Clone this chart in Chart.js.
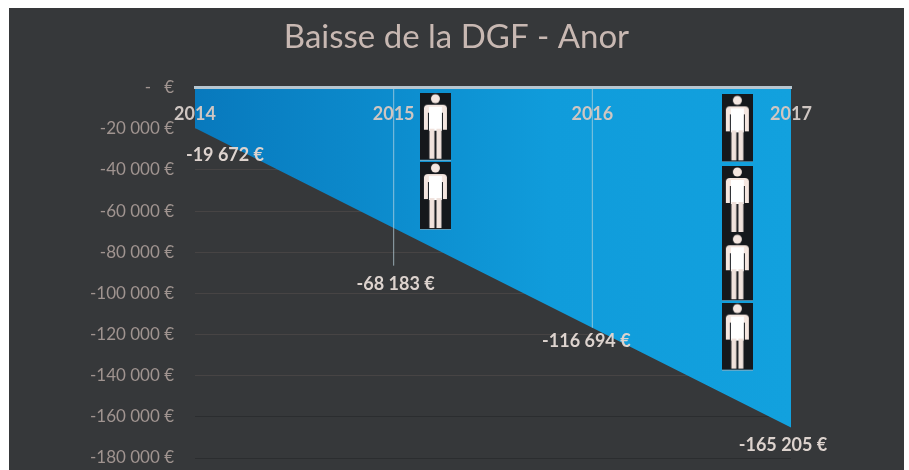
<!DOCTYPE html>
<html lang="fr">
<head>
    <meta charset="UTF-8">
    <title>Baisse de la DGF - Anor</title>
    <script src="https://cdn.jsdelivr.net/npm/chart.js"></script>
    <style>
        body, html {
            margin: 0;
            padding: 0;
            height: 100%;
            width: 100%;
            overflow: hidden;
            background: #ffffff;
            font-family: Lato, sans-serif;
        }
        #panel {
            position: absolute;
            left: 9px;
            top: 8px;
            width: 895px;
            height: 466px;
        }
    </style>
</head>
<body>
    <div id="panel"><canvas id="dgfChart"></canvas></div>

    <script>
        const years = [2014, 2015, 2016, 2017];
        const dgfValues = [-19672, -68183, -116694, -165205];
        const valueLabels = ['-19 672 €', '-68 183 €', '-116 694 €', '-165 205 €'];
        const dropYears = [2015, 2016];
        const dropEnds = [-86500, -116694];
        const personYears = [2015.21, 2015.21, 2016.73, 2016.73, 2016.73, 2016.73];
        const personValues = [-19000, -52700, -19800, -54600, -87300, -121000];

        const titleColor = '#c8b8b2';
        const tickColor = '#a09490';
        const labelColor = '#ddd3ce';

        // little man icon, used as point style
        function makePerson() {
            const c = document.createElement('canvas');
            c.width = 31;
            c.height = 68;
            const g = c.getContext('2d');
            g.fillStyle = '#15181c';
            g.fillRect(0, 0, 31, 68);
            g.fillStyle = '#f4e6e0';
            g.beginPath();
            g.arc(15.5, 6, 4.5, 0, Math.PI * 2);
            g.fill();
            g.beginPath();
            g.roundRect(4, 12, 23, 8, 4);
            g.fill();
            g.fillRect(4, 15, 4, 22);
            g.fillRect(23, 15, 4, 22);
            g.fillStyle = '#ffffff';
            g.fillRect(9, 14, 13, 24);
            g.fillStyle = '#f0e2dc';
            g.fillRect(9.5, 36, 5, 30);
            g.fillRect(16.5, 36, 5, 30);
            g.fillStyle = '#5fa9cc';
            g.fillRect(0, 67, 31, 1);
            return c;
        }

        const valueLabelsPlugin = {
            id: 'valueLabels',
            afterDatasetsDraw(chart) {
                const offsets = [[30, 27], [2, 56], [-6, 13], [-8, 18]];
                const { ctx, scales } = chart;
                ctx.save();
                ctx.font = 'bold 18px Lato, sans-serif';
                ctx.fillStyle = labelColor;
                ctx.textAlign = 'center';
                ctx.textBaseline = 'middle';
                valueLabels.forEach((text, i) => {
                    ctx.fillText(text,
                        scales.x.getPixelForValue(years[i]) + offsets[i][0],
                        scales.y.getPixelForValue(dgfValues[i]) + offsets[i][1]);
                });
                ctx.restore();
            }
        };

        const panelPlugin = {
            id: 'panelBg',
            beforeDraw(chart) {
                chart.ctx.fillStyle = '#36383a';
                chart.ctx.fillRect(0, 0, chart.width, chart.height);
            }
        };

        const person = makePerson();

        const ctx = document.getElementById('dgfChart').getContext('2d');
        new Chart(ctx, {
            type: 'line',
            data: {
                datasets: [
                    {
                        data: years.map((y, i) => ({ x: y, y: dgfValues[i] })),
                        order: 3,
                        fill: 'origin',
                        borderWidth: 0,
                        pointRadius: 0,
                        tension: 0,
                        backgroundColor: (context) => {
                            const area = context.chart.chartArea;
                            if (!area) return '#0f95d4';
                            const grad = context.chart.ctx.createLinearGradient(area.left, 0, area.right, 0);
                            grad.addColorStop(0, '#0879bd');
                            grad.addColorStop(0.6, '#109cdb');
                            grad.addColorStop(1, '#12a1de');
                            return grad;
                        }
                    },
                    ...dropYears.map((y, i) => ({
                        data: [{ x: y, y: 0 }, { x: y, y: dropEnds[i] }],
                        order: 2,
                        borderColor: 'rgba(190, 215, 225, 0.3)',
                        borderWidth: 1,
                        pointRadius: 0
                    })),
                    {
                        data: personYears.map((y, i) => ({ x: y, y: personValues[i] })),
                        order: 1,
                        showLine: false,
                        pointStyle: person,
                        pointRadius: 15
                    }
                ]
            },
            options: {
                responsive: true,
                maintainAspectRatio: false,
                animation: false,
                layout: { padding: { bottom: 13 } },
                scales: {
                    x: {
                        type: 'linear',
                        position: { y: 0 },
                        min: 2014,
                        max: 2017,
                        afterFit: scale => { scale.height = 0; },
                        grid: { display: false },
                        border: { color: '#b7c6d0', width: 3, z: 1 },
                        ticks: {
                            z: 1,
                            stepSize: 1,
                            padding: 8,
                            maxRotation: 0,
                            color: '#cfc6c2',
                            font: { family: 'Lato', size: 18, weight: 'bold' },
                            callback: value => String(value)
                        }
                    },
                    y: {
                        min: -180000,
                        max: 0,
                        afterFit: scale => {
                            scale.width = 186;
                            scale.paddingBottom = 0;
                        },
                        border: { display: false },
                        grid: {
                            drawTicks: false,
                            color: c => c.tick.value <= -160000 ? '#2b2d2f' : 'rgba(140, 120, 110, 0.2)'
                        },
                        ticks: {
                            stepSize: 20000,
                            padding: 21,
                            color: tickColor,
                            font: { family: 'Lato', size: 17 },
                            callback: value => value === 0 ? '-   €' :
                                '-' + String(Math.abs(value)).replace(/(\d{3})$/, ' $1') + ' €'
                        }
                    },
                    // empty axis, keeps the right margin without moving the title
                    spacer: {
                        position: 'right',
                        afterFit: scale => {
                            scale.width = 113;
                            scale.paddingBottom = 0;
                        },
                        grid: { display: false },
                        border: { display: false },
                        ticks: { display: false }
                    }
                },
                plugins: {
                    legend: { display: false },
                    tooltip: { enabled: false },
                    title: {
                        display: true,
                        text: 'Baisse de la DGF - Anor',
                        color: titleColor,
                        font: { family: 'Lato', size: 33, weight: 'normal' },
                        padding: { top: 10, bottom: 30 }
                    }
                }
            },
            plugins: [panelPlugin, valueLabelsPlugin]
        });
    </script>
</body>
</html>
